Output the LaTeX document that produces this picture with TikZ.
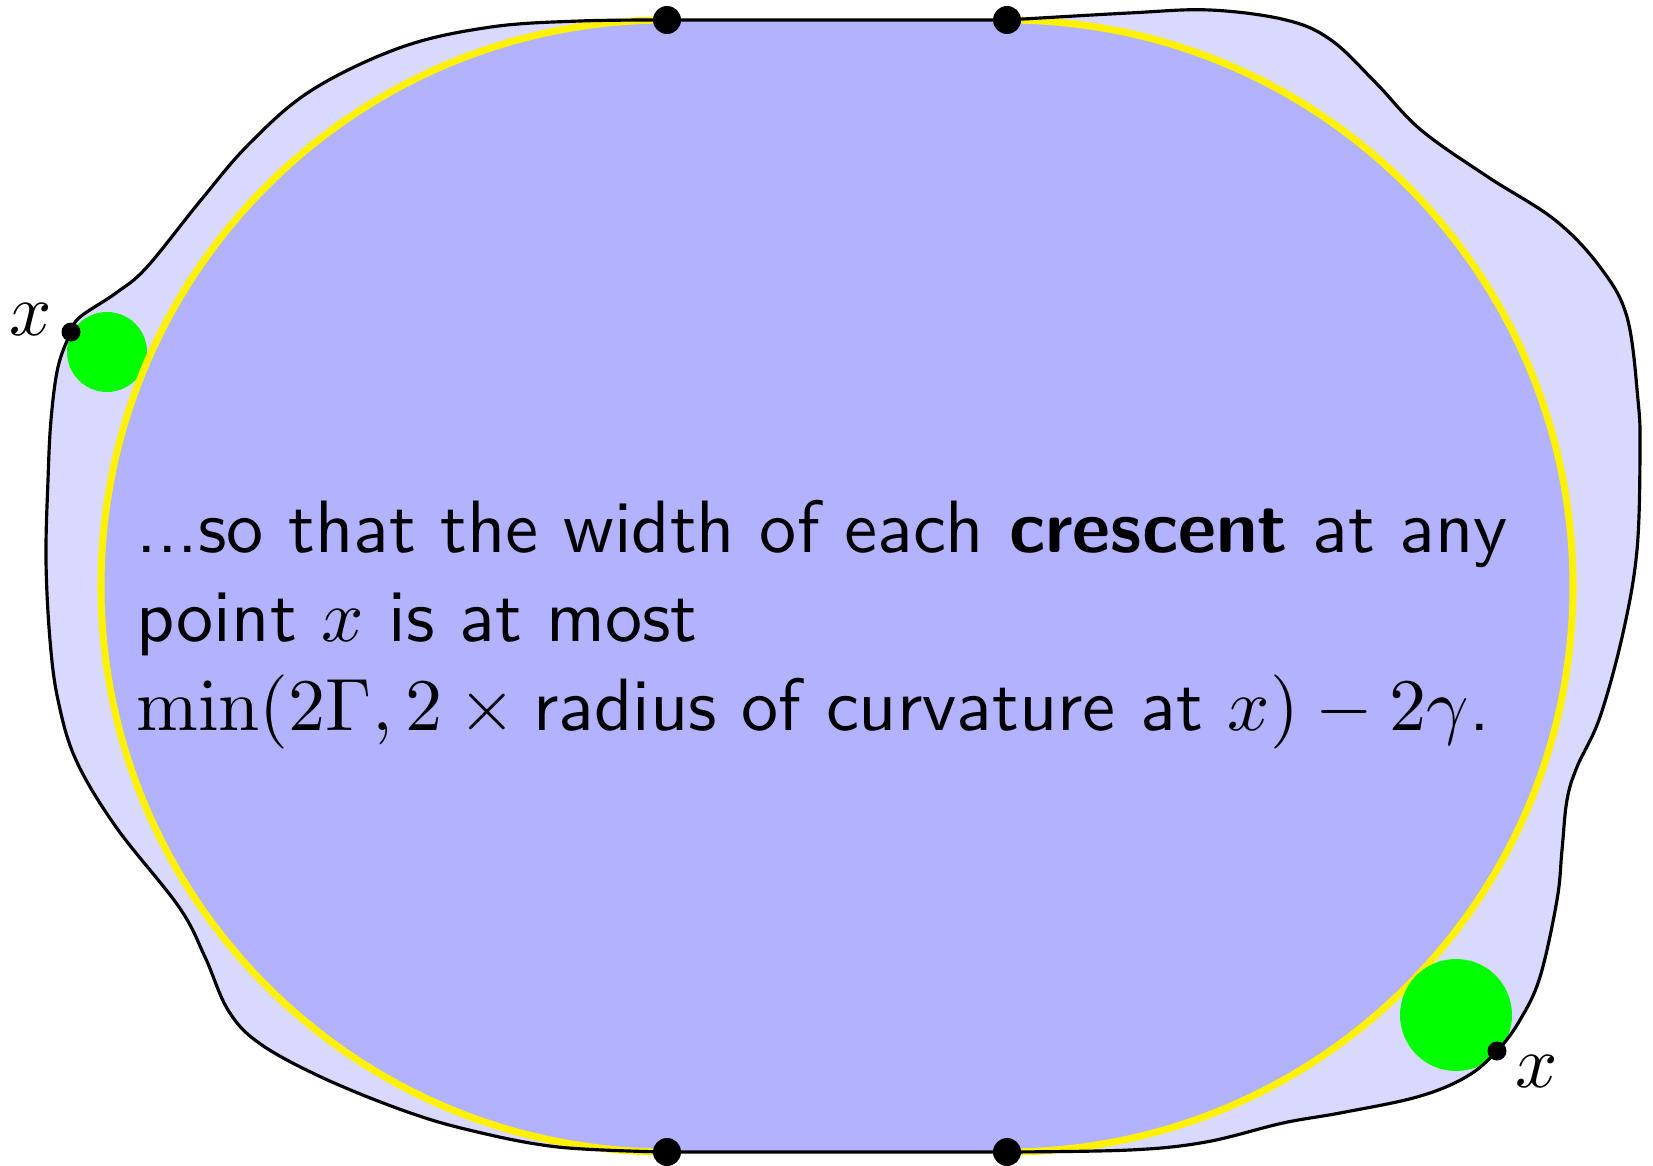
\documentclass[tikz,border=0pt]{standalone}
\usepackage{tikz}
\usetikzlibrary{positioning}

\newcommand{\blobpath}{(tl) -- (tr) -- plot[smooth,tension=0.6] coordinates {(tr) (11.29,11.52) (12.10,11.55) (12.86,11.45) (13.31,11.25) (13.76,10.82) (14.21,10.35) (14.88,9.88) (15.55,9.45) (16.00,8.98) (16.27,8.48) (16.38,7.65) (16.40,7.15) (16.37,6.15) (16.23,5.32) (16.00,4.48) (15.77,3.98) (15.67,3.65) (15.62,3.15) (15.57,2.65) (15.40,1.88) (15.20,1.45) (rx) (14.66,0.88) (14.17,0.68) (13.40,0.52) (12.83,0.42) (12.06,0.23) (11.30,0.15) (br)} -- (bl) -- plot[smooth,tension=0.6] coordinates {(bl) (5.58,0.18) (4.69,0.35) (4.02,0.55) (3.21,0.88) (2.59,1.22) (2.28,1.55) (2.05,2.08) (1.79,2.58) (1.16,3.38) (0.76,4.05) (0.58,4.65) (0.50,5.25) (0.46,6.05) (0.48,6.85) (0.51,7.45) (0.58,7.98) (lx) (0.80,8.48) (1.16,8.72) (1.47,8.98) (2.01,9.65) (2.50,10.22) (3.12,10.75) (4.02,11.18) (4.91,11.38) (5.80,11.44) (tl)} -- cycle}

\begin{document}
\begin{tikzpicture}[
	bigdot/.style={circle,fill=black,inner sep=0pt,minimum size=2.8mm},
	ptdot/.style={circle,fill=black,inner sep=0pt,minimum size=1.9mm},
	disc/.style={circle,fill=green,inner sep=0pt},
	xlabel/.style={scale=2.11,inner sep=0pt},
	rim/.style={yellow,line width=2pt}
	]
	\useasboundingbox (0,0) rectangle (16.53,11.65);
	
	\coordinate (tl) at (6.67,11.45);
	\coordinate (tr) at (10.07,11.45);
	\coordinate (bl) at (6.67,0.13);
	\coordinate (br) at (10.07,0.13);
	\coordinate (lx) at (0.71,8.33);
	\coordinate (rx) at (14.97,1.14);
	
	\fill[blue!15] \blobpath;
	
	\node[disc,minimum size=8mm] (ldisc) at (1.07,8.13) {};
	
	\fill[blue!30] (tl) -- (tr) arc[start angle=90,end angle=-90,radius=5.66]
		-- (bl) arc[start angle=270,end angle=90,radius=5.66] -- cycle;
	\draw[rim] (tr) arc[start angle=90,end angle=-90,radius=5.66];
	\draw[rim] (bl) arc[start angle=270,end angle=90,radius=5.66];
	
	\node[disc,minimum size=11.2mm] (rdisc) at (14.56,1.50) {};
	
	\draw[line width=0.9pt] \blobpath;
	
	\node[anchor=north west,inner sep=0pt,align=left,scale=2.11,font=\sffamily] (txt) at (1.35,6.66)
		{...so that the width of each \textbf{crescent} at any\\
		point $x$ is at most\\
		$\min(2\Gamma,2\times\mbox{radius of curvature at }x)-2\gamma$.};
	
	\node[bigdot] (ntl) at (tl) {};
	\node[bigdot] (ntr) at (tr) {};
	\node[bigdot] (nbl) at (bl) {};
	\node[bigdot] (nbr) at (br) {};
	\node[ptdot] (nlx) at (lx) {};
	\node[ptdot] (nrx) at (rx) {};
	
	\node[xlabel] (xleft) at (0.31,8.45) {$x$};
	\node[xlabel] (xright) at (15.37,0.93) {$x$};
\end{tikzpicture}
\end{document}
